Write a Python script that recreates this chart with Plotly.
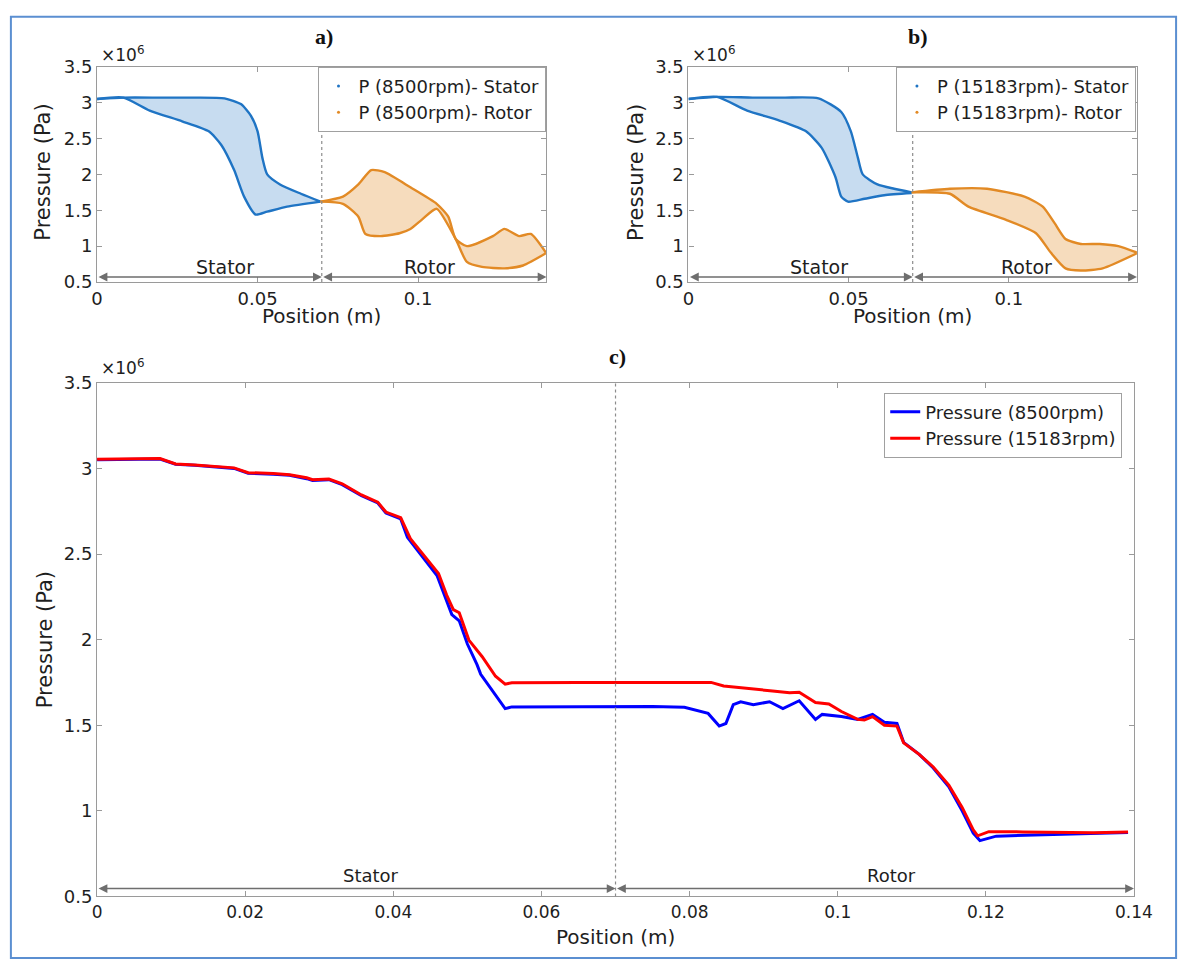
import plotly.graph_objects as go

W, H = 1199, 971

# ---------------- data (pressure in units of 1e6 Pa, position in m) ----------------
# a) 8500 rpm blade-surface pressure band
a_stator_up_x = [0.0, 0.0082, 0.02, 0.03, 0.0397, 0.0448, 0.0479, 0.05, 0.0515, 0.053, 0.057, 0.0635, 0.0696]
a_stator_up_p = [3.05, 3.07, 3.07, 3.07, 3.06, 2.98, 2.82, 2.60, 2.23, 2.00, 1.86, 1.73, 1.62]
a_stator_lo_x = [0.0, 0.0082, 0.0164, 0.0265, 0.0348, 0.0387, 0.0427, 0.0458, 0.0494, 0.053, 0.0592, 0.0696]
a_stator_lo_p = [3.05, 3.07, 2.89, 2.74, 2.60, 2.41, 2.06, 1.69, 1.44, 1.48, 1.55, 1.62]
a_rotor_up_x = [0.0696, 0.0766, 0.0814, 0.0854, 0.0896, 0.0976, 0.1058, 0.1094, 0.1117, 0.1152, 0.1233, 0.1269, 0.1315, 0.1351, 0.1398]
a_rotor_up_p = [1.62, 1.69, 1.86, 2.06, 2.03, 1.82, 1.59, 1.41, 1.10, 1.00, 1.14, 1.24, 1.14, 1.17, 0.91]
a_rotor_lo_x = [0.0696, 0.0766, 0.0814, 0.0836, 0.0884, 0.0942, 0.0976, 0.1012, 0.1058, 0.1117, 0.1152, 0.1199, 0.1269, 0.1327, 0.1398]
a_rotor_lo_p = [1.62, 1.59, 1.41, 1.17, 1.14, 1.18, 1.24, 1.37, 1.52, 1.10, 0.78, 0.71, 0.69, 0.73, 0.90]

# b) 15183 rpm blade-surface pressure band
b_stator_up_x = [0.0, 0.0089, 0.02, 0.03, 0.0406, 0.0477, 0.0507, 0.0529, 0.0544, 0.059, 0.0642, 0.0697]
b_stator_up_p = [3.05, 3.08, 3.07, 3.07, 3.06, 2.87, 2.60, 2.23, 2.00, 1.86, 1.80, 1.75]
b_stator_lo_x = [0.0, 0.0089, 0.0183, 0.0284, 0.0367, 0.0416, 0.0459, 0.0477, 0.0498, 0.055, 0.0611, 0.0697]
b_stator_lo_p = [3.05, 3.08, 2.89, 2.75, 2.60, 2.37, 1.96, 1.69, 1.62, 1.66, 1.71, 1.74]
b_rotor_up_x = [0.0697, 0.0816, 0.0932, 0.1049, 0.1106, 0.1143, 0.1177, 0.1225, 0.1284, 0.1342, 0.1400]
b_rotor_up_p = [1.75, 1.80, 1.80, 1.69, 1.55, 1.32, 1.10, 1.03, 1.03, 1.00, 0.91]
b_rotor_lo_x = [0.0697, 0.0816, 0.0874, 0.0990, 0.1085, 0.1131, 0.1177, 0.1225, 0.1293, 0.1400]
b_rotor_lo_p = [1.75, 1.73, 1.55, 1.37, 1.18, 0.91, 0.69, 0.66, 0.69, 0.90]

# c) mid-span pressure along the stage
c_x_8500 = [0.0, 0.0085, 0.0106, 0.0132, 0.0185, 0.0204, 0.0238, 0.026, 0.0283, 0.0291, 0.0313, 0.0331,
            0.0357, 0.0379, 0.039, 0.041, 0.0419, 0.044, 0.0459, 0.0479, 0.0489, 0.05, 0.0513, 0.0518,
            0.0551, 0.056, 0.065, 0.075, 0.0793, 0.0825, 0.084, 0.0849, 0.0859, 0.0869, 0.0886, 0.0908,
            0.0926, 0.0948, 0.097, 0.0979, 0.1005, 0.1027, 0.1047, 0.1063, 0.108, 0.1089, 0.111, 0.1129,
            0.115, 0.1168, 0.1183, 0.1192, 0.1214, 0.1346, 0.1392]
c_p_8500 = [3.05, 3.055, 3.024, 3.018, 3.0, 2.972, 2.966, 2.96, 2.94, 2.93, 2.934, 2.905,
            2.84, 2.798, 2.74, 2.705, 2.597, 2.48, 2.374, 2.146, 2.11, 1.974, 1.854, 1.797,
            1.597, 1.607, 1.61, 1.61, 1.605, 1.569, 1.495, 1.51, 1.62, 1.637, 1.62, 1.637,
            1.597, 1.643, 1.534, 1.563, 1.551, 1.534, 1.563, 1.517, 1.51, 1.40, 1.33, 1.25,
            1.14, 1.0, 0.87, 0.826, 0.852, 0.866, 0.874]
c_x_15183 = [0.0, 0.0085, 0.0106, 0.0132, 0.0185, 0.0204, 0.0238, 0.026, 0.0283, 0.0291, 0.0313, 0.0331,
             0.0357, 0.0379, 0.039, 0.041, 0.0423, 0.0442, 0.0461, 0.0472, 0.0481, 0.0489, 0.0502, 0.052,
             0.0538, 0.0551, 0.056, 0.065, 0.075, 0.0829, 0.0846, 0.0882, 0.0912, 0.0935, 0.0948, 0.097,
             0.0988, 0.1005, 0.1027, 0.1036, 0.1047, 0.1063, 0.108, 0.1089, 0.111, 0.1129, 0.115, 0.1168,
             0.1183, 0.1189, 0.1204, 0.125, 0.13, 0.1346, 0.1392]
c_p_15183 = [3.054, 3.058, 3.026, 3.02, 3.003, 2.975, 2.97, 2.963, 2.945, 2.934, 2.938, 2.91,
             2.845, 2.803, 2.745, 2.712, 2.59, 2.49, 2.386, 2.26, 2.175, 2.157, 1.997, 1.9,
             1.786, 1.74, 1.748, 1.75, 1.75, 1.75, 1.729, 1.711, 1.70, 1.689, 1.692, 1.632,
             1.624, 1.58, 1.534, 1.53, 1.55, 1.50, 1.495, 1.397, 1.33, 1.256, 1.15, 1.02,
             0.889, 0.854, 0.878, 0.877, 0.874, 0.872, 0.876]

y_ticks = [0.5, 1, 1.5, 2, 2.5, 3, 3.5]
y_tick_text = ["0.5", "1", "1.5", "2", "2.5", "3", "3.5"]
ab_x_ticks = [0, 0.05, 0.1]
ab_x_tick_text = ["0", "0.05", "0.1"]
c_x_ticks = [0, 0.02, 0.04, 0.06, 0.08, 0.1, 0.12, 0.14]
c_x_tick_text = ["0", "0.02", "0.04", "0.06", "0.08", "0.1", "0.12", "0.14"]
interface_x = 0.07

# ---------------- styling ----------------
FONT = "DejaVu Sans"
TXT = "#1e1e1e"
AX = "#9a9a9a"
BLUE_BAND = "#1f74c4"
ORANGE_BAND = "#e28a25"


def px(x):
    return x / W


def py(y):
    return 1 - y / H


fig = go.Figure()


def band(xa, ya, x_up, p_up, x_lo, p_lo, color, fill):
    poly_x = list(x_up) + list(reversed(x_lo))
    poly_y = list(p_up) + list(reversed(p_lo))
    fig.add_trace(go.Scatter(x=poly_x, y=poly_y, mode="lines", fill="toself",
                             fillcolor=fill, line=dict(color="rgba(0,0,0,0)", width=0),
                             xaxis=xa, yaxis=ya, showlegend=False, hoverinfo="skip"))
    for xs, ps in ((x_up, p_up), (x_lo, p_lo)):
        fig.add_trace(go.Scatter(x=xs, y=ps, mode="lines",
                                 line=dict(color=color, width=2.4, shape="spline", smoothing=0.6),
                                 xaxis=xa, yaxis=ya, showlegend=False, hoverinfo="skip"))


# a)
band("x", "y", a_stator_up_x, a_stator_up_p, a_stator_lo_x, a_stator_lo_p, BLUE_BAND, "rgba(31,116,196,0.25)")
band("x", "y", a_rotor_up_x, a_rotor_up_p, a_rotor_lo_x, a_rotor_lo_p, ORANGE_BAND, "rgba(226,138,37,0.30)")
# b)
band("x2", "y2", b_stator_up_x, b_stator_up_p, b_stator_lo_x, b_stator_lo_p, BLUE_BAND, "rgba(31,116,196,0.25)")
band("x2", "y2", b_rotor_up_x, b_rotor_up_p, b_rotor_lo_x, b_rotor_lo_p, ORANGE_BAND, "rgba(226,138,37,0.30)")

# legend entries for the bands
for name, col, leg in (("P (8500rpm)- Stator", BLUE_BAND, "legend"), ("P (8500rpm)- Rotor", ORANGE_BAND, "legend"),
                       ("P (15183rpm)- Stator", BLUE_BAND, "legend2"), ("P (15183rpm)- Rotor", ORANGE_BAND, "legend2")):
    xa, ya = ("x", "y") if leg == "legend" else ("x2", "y2")
    fig.add_trace(go.Scatter(x=[None], y=[None], mode="markers", name=name,
                             marker=dict(color=col, size=3), xaxis=xa, yaxis=ya, legend=leg))

# c)
fig.add_trace(go.Scatter(x=c_x_8500, y=c_p_8500, mode="lines", name="Pressure (8500rpm)",
                         line=dict(color="#0000ff", width=3), xaxis="x3", yaxis="y3", legend="legend3"))
fig.add_trace(go.Scatter(x=c_x_15183, y=c_p_15183, mode="lines", name="Pressure (15183rpm)",
                         line=dict(color="#ff0000", width=3), xaxis="x3", yaxis="y3", legend="legend3"))

# ---------------- axes ----------------
panels = {
    "": dict(x=(93, 552), y=(57, 277), xt=(ab_x_ticks, ab_x_tick_text), fx=18, fy=18),
    "2": dict(x=(697, 1155), y=(57, 277), xt=(ab_x_ticks, ab_x_tick_text), fx=18, fy=18),
    "3": dict(x=(93, 1152), y=(380, 905), xt=(c_x_ticks, c_x_tick_text), fx=17, fy=18),
}
lay = {}
for k, p in panels.items():
    common = dict(showline=True, linecolor=AX, linewidth=1.2, mirror="ticks", ticks="inside",
                  ticklen=5, tickcolor=AX, showgrid=False, zeroline=False)
    lay["xaxis" + k] = dict(domain=[px(p["x"][0]), px(p["x"][1])], range=[0, 0.14],
                            tickvals=p["xt"][0], ticktext=p["xt"][1],
                            tickfont=dict(family=FONT, size=p["fx"], color=TXT),
                            anchor="y" + k, **common)
    lay["yaxis" + k] = dict(domain=[py(p["y"][1]), py(p["y"][0])], range=[0.5, 3.5],
                            tickvals=y_ticks, ticktext=y_tick_text,
                            tickfont=dict(family=FONT, size=p["fy"], color=TXT),
                            anchor="x" + k, **common)

shapes = []
annotations = []
for k in ("", "2", "3"):
    shapes.append(dict(type="line", xref="x" + k, yref="y" + k, x0=interface_x, x1=interface_x, y0=0.5, y1=3.5,
                       line=dict(color="#8c8c8c", width=1.2, dash="dot")))

# Stator / Rotor extents
arrow_specs = {"": (0.57, 0.71, 0.040, 0.1035, 19), "2": (0.57, 0.71, 0.0407, 0.1055, 19),
               "3": (0.546, 0.62, 0.037, 0.1072, 18)}
for k, (ya, yt, xs, xr, fs) in arrow_specs.items():
    for x0, x1 in ((0.0, interface_x), (interface_x, 0.14)):
        annotations.append(dict(xref="x" + k, yref="y" + k, axref="x" + k, ayref="y" + k,
                                x=x1, y=ya, ax=x0, ay=ya, text="", showarrow=True,
                                arrowside="end+start", arrowhead=2, arrowsize=1.1,
                                arrowwidth=1.6, arrowcolor="#6e6e6e"))
    annotations.append(dict(xref="x" + k, yref="y" + k, x=xs, y=yt, text="Stator", showarrow=False,
                            xanchor="center", yanchor="middle",
                            font=dict(family=FONT, size=fs, color=TXT)))
    annotations.append(dict(xref="x" + k, yref="y" + k, x=xr, y=yt, text="Rotor", showarrow=False,
                            xanchor="center", yanchor="middle",
                            font=dict(family=FONT, size=fs, color=TXT)))

# exponent labels
for xl, yl in ((95, 44), (699, 44), (95, 364)):
    annotations.append(dict(xref="paper", yref="paper", x=px(xl), y=py(yl), xanchor="left", yanchor="middle",
                            text="×10<sup>6</sup>", showarrow=False, font=dict(family=FONT, size=17, color=TXT)))

# panel letters
for t, xl, yl in (("a)", 325, 26), ("b)", 931, 26), ("c)", 625, 353)):
    annotations.append(dict(xref="paper", yref="paper", x=px(xl), y=py(yl), text="<b>%s</b>" % t, showarrow=False,
                            xanchor="center", yanchor="middle",
                            font=dict(family="Liberation Serif", size=22, color="#111111")))

# axis titles
for xl, yl in ((322, 312), (926, 312), (622, 946)):
    annotations.append(dict(xref="paper", yref="paper", x=px(xl), y=py(yl), text="Position (m)", showarrow=False,
                            xanchor="center", yanchor="middle",
                            font=dict(family=FONT, size=20, color=TXT)))
for xl, yl in ((38, 165), (644, 165), (40, 643)):
    annotations.append(dict(xref="paper", yref="paper", x=px(xl), y=py(yl), text="Pressure (Pa)", showarrow=False,
                            xanchor="center", yanchor="middle",
                            textangle=-90, font=dict(family=FONT, size=21, color=TXT)))

# outer frame
shapes.append(dict(type="rect", xref="paper", yref="paper", x0=px(5), x1=px(1195), y0=py(968), y1=py(6),
                   line=dict(color="#5b8fd1", width=2)))

legend_common = dict(bgcolor="white", bordercolor="#a0a0a0", borderwidth=1, xanchor="right", yanchor="top",
                     tracegroupgap=0, itemwidth=30)
fig.update_layout(
    width=W, height=H, margin=dict(l=0, r=0, t=0, b=0),
    paper_bgcolor="white", plot_bgcolor="white",
    shapes=shapes, annotations=annotations,
    legend=dict(x=px(551), y=py(57), font=dict(family=FONT, size=18, color=TXT), **legend_common),
    legend2=dict(x=px(1154), y=py(57), font=dict(family=FONT, size=18, color=TXT), **legend_common),
    legend3=dict(x=px(1140), y=py(390), font=dict(family=FONT, size=18, color=TXT), **legend_common),
    **lay,
)

fig.write_html("out.html")
